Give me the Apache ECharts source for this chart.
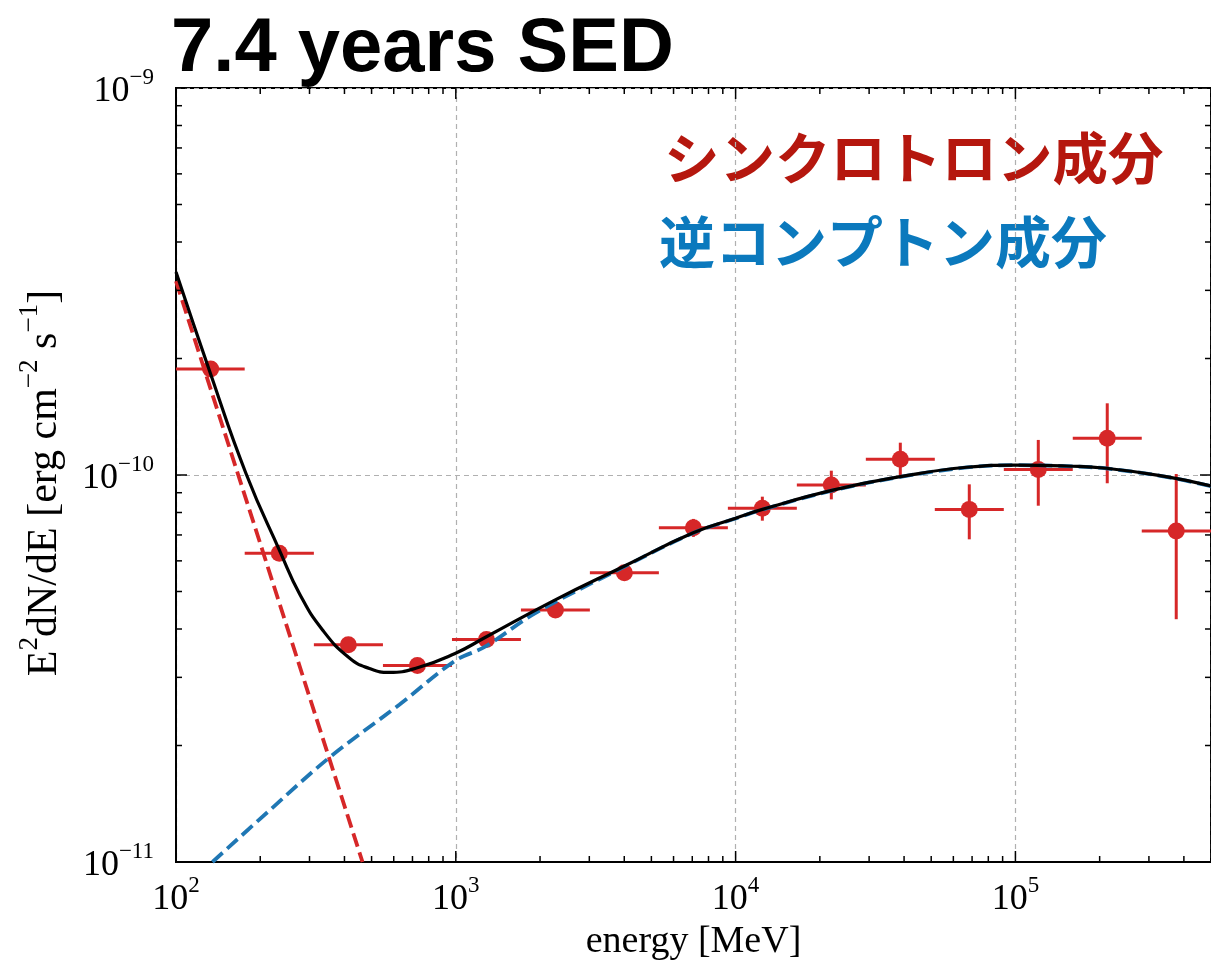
<!DOCTYPE html>
<html>
<head>
<meta charset="utf-8">
<title>7.4 years SED</title>
<script src="https://cdn.jsdelivr.net/npm/echarts@6/dist/echarts.min.js"></script>
<style>
  html, body { margin: 0; padding: 0; background: #fff; }
  #chart { width: 1211px; height: 967px; }
</style>
</head>
<body>
<div id="chart"></div>
<script>
// Fermi-LAT band fluxes (MeV, erg cm^-2 s^-1)
const energy     = [133, 234, 413, 729, 1287, 2270, 4004, 7063, 12460, 21980, 38780, 68410, 120700, 212900, 375600];
const energyLow  = [100, 176, 311, 549, 969, 1709, 3014, 5318, 9382, 16550, 29200, 51510, 90880, 160300, 282800];
const energyHigh = [176, 311, 549, 969, 1709, 3014, 5318, 9382, 16550, 29200, 51510, 90880, 160300, 282800, 500000];
const flux       = [1.88e-10, 6.28e-11, 3.64e-11, 3.22e-11, 3.76e-11, 4.48e-11, 5.59e-11, 7.31e-11, 8.20e-11, 9.42e-11, 1.098e-10, 8.15e-11, 1.034e-10, 1.244e-10, 7.17e-11];
const fluxLow    = [1.84e-10, 6.12e-11, 3.56e-11, 3.15e-11, 3.69e-11, 4.40e-11, 5.46e-11, 6.92e-11, 7.62e-11, 8.65e-11, 1.00e-10, 6.82e-11, 8.33e-11, 9.52e-11, 4.24e-11];
const fluxHigh   = [1.92e-10, 6.44e-11, 3.72e-11, 3.29e-11, 3.83e-11, 4.56e-11, 5.72e-11, 7.70e-11, 8.79e-11, 1.026e-10, 1.212e-10, 9.46e-11, 1.232e-10, 1.532e-10, 1.006e-10];

// Model components
const syncE  = [100, 464];
const syncF  = [3.17e-10, 1.0e-11];
const icE    = [135, 216, 357, 628, 994, 1272, 1917, 4010, 7022, 10000, 12470, 22450, 38810, 67040, 100000, 152200, 211300, 345600, 500000];
const icF    = [1.0e-11, 1.36e-11, 1.873e-11, 2.55e-11, 3.31e-11, 3.60e-11, 4.39e-11, 5.80e-11, 7.07e-11, 7.72e-11, 8.14e-11, 9.14e-11, 9.89e-11, 1.046e-10, 1.06e-10, 1.054e-10, 1.04e-10, 9.89e-11, 9.36e-11];
const totalE = [100, 132.2, 177.6, 236.7, 276.6, 334, 416.8, 491.2, 578.8, 734, 994, 1272, 2258, 4010, 7022, 10000, 12470, 22450, 38810, 67040, 100000, 152200, 211300, 345600, 500000];
const totalF = [3.345e-10, 1.846e-10, 1.012e-10, 6.286e-11, 4.927e-11, 3.977e-11, 3.366e-11, 3.162e-11, 3.089e-11, 3.181e-11, 3.458e-11, 3.802e-11, 4.75e-11, 5.82e-11, 7.08e-11, 7.73e-11, 8.15e-11, 9.15e-11, 9.90e-11, 1.047e-10, 1.061e-10, 1.055e-10, 1.041e-10, 9.90e-11, 9.37e-11];

// Axis ticks
const xTickExps  = [2, 3, 4, 5];
const yTickExps  = [-11, -10, -9];
const xMajor = [100, 1000, 10000, 100000];
const xMinor = [200, 300, 400, 500, 600, 700, 800, 900,
                2000, 3000, 4000, 5000, 6000, 7000, 8000, 9000,
                20000, 30000, 40000, 50000, 60000, 70000, 80000, 90000,
                200000, 300000, 400000];
const yMajor = [1e-11, 1e-10, 1e-9];
const yMinor = [2e-11, 3e-11, 4e-11, 5e-11, 6e-11, 7e-11, 8e-11, 9e-11,
                2e-10, 3e-10, 4e-10, 5e-10, 6e-10, 7e-10, 8e-10, 9e-10];

const SERIF = '"Liberation Serif", "DejaVu Serif", serif';
const RED = '#d62728';
const BLUE = '#1f77b4';

const zip = (a, b) => a.map((v, i) => [v, b[i]]);

const tickRich = {
  b: { fontFamily: SERIF, fontSize: 36, lineHeight: 44, verticalAlign: 'bottom', color: '#000' },
  s: { fontFamily: SERIF, fontSize: 23, lineHeight: 24, verticalAlign: 'top', color: '#000' }
};

function powerLabel(exps) {
  return function (v) {
    const l = Math.log10(v);
    const e = Math.round(l);
    if (Math.abs(l - e) > 1e-6 || exps.indexOf(e) < 0) return '';
    return '{b|10}{s|' + String(e).replace('-', '\u2212') + '}';
  };
}

function xTicks(len) {
  return function (params, api) {
    const cs = params.coordSys;
    const px = api.coord([api.value(0), 1e-10])[0];
    const style = { stroke: '#000', lineWidth: 1.5 };
    return { type: 'group', children: [
      { type: 'line', shape: { x1: px, y1: cs.y + cs.height, x2: px, y2: cs.y + cs.height - len }, style },
      { type: 'line', shape: { x1: px, y1: cs.y, x2: px, y2: cs.y + len }, style }
    ]};
  };
}
function yTicks(len) {
  return function (params, api) {
    const cs = params.coordSys;
    const py = api.coord([1000, api.value(1)])[1];
    const style = { stroke: '#000', lineWidth: 1.5 };
    return { type: 'group', children: [
      { type: 'line', shape: { x1: cs.x, y1: py, x2: cs.x + len, y2: py }, style },
      { type: 'line', shape: { x1: cs.x + cs.width, y1: py, x2: cs.x + cs.width - len, y2: py }, style }
    ]};
  };
}

const errData = energy.map((e, i) => [e, flux[i], energyLow[i], energyHigh[i], fluxLow[i], fluxHigh[i]]);

const chart = echarts.init(document.getElementById('chart'), null, { renderer: 'canvas' });

chart.setOption({
  animation: false,
  backgroundColor: '#fff',
  grid: {
    left: 176, top: 88, right: -3, bottom: 105,
    show: true, borderColor: '#000', borderWidth: 2, backgroundColor: 'transparent'
  },
  xAxis: {
    type: 'log', logBase: 10, min: 100, max: 500000,
    name: 'energy [MeV]', nameLocation: 'middle', nameGap: 60,
    nameTextStyle: { fontFamily: SERIF, fontSize: 38, color: '#000' },
    axisLine: { lineStyle: { color: '#000', width: 2 } },
    axisTick: { show: false },
    minorTick: { show: false },
    axisLabel: { formatter: powerLabel(xTickExps), margin: 12, rich: tickRich, showMaxLabel: false },
    splitLine: { show: true, lineStyle: { color: '#b0b0b0', type: [5, 4], width: 1.2 } }
  },
  yAxis: {
    type: 'log', logBase: 10, min: 1e-11, max: 1e-9,
    name: '{n|E}{s|2}{n|dN/dE [erg cm}{s|\u22122}{n| s}{s|\u22121}{n|]}',
    nameLocation: 'middle', nameGap: 110, nameRotate: 90,
    nameTextStyle: {
      padding: [0, 16, 0, 0],
      rich: {
        n: { fontFamily: SERIF, fontSize: 42, lineHeight: 50, verticalAlign: 'bottom', color: '#000' },
        s: { fontFamily: SERIF, fontSize: 27, lineHeight: 28, verticalAlign: 'top', color: '#000' }
      }
    },
    axisLine: { lineStyle: { color: '#000', width: 2 } },
    axisTick: { show: false },
    minorTick: { show: false },
    axisLabel: { formatter: powerLabel(yTickExps), margin: 22, rich: tickRich },
    splitLine: { show: true, lineStyle: { color: '#b0b0b0', type: [5, 4], width: 1.2 } }
  },
  graphic: [
    { type: 'text', x: 171, y: 50, style: { text: '7.4 years SED', fontFamily: '"Liberation Sans", Arial, sans-serif', fontWeight: 'bold', fontSize: 76, fill: '#000', verticalAlign: 'middle', align: 'left' } },
    { type: 'text', x: 664, y: 158, style: { text: 'シンクロトロン成分', fontFamily: '"Noto Sans CJK JP", sans-serif', fontWeight: 'bold', fontSize: 55.5, fill: '#b5170e', verticalAlign: 'middle', align: 'left' } },
    { type: 'text', x: 659, y: 242, style: { text: '逆コンプトン成分', fontFamily: '"Noto Sans CJK JP", sans-serif', fontWeight: 'bold', fontSize: 56, fill: '#0b79bd', verticalAlign: 'middle', align: 'left' } }
  ],
  series: [
    {
      name: 'errors', type: 'custom', z: 3, silent: true,
      data: errData,
      encode: { x: 0, y: 1 },
      renderItem: function (params, api) {
        const c = api.coord([api.value(0), api.value(1)]);
        const xl = api.coord([api.value(2), api.value(1)]);
        const xh = api.coord([api.value(3), api.value(1)]);
        const yl = api.coord([api.value(0), api.value(4)]);
        const yh = api.coord([api.value(0), api.value(5)]);
        const style = { stroke: RED, lineWidth: 3 };
        return { type: 'group', children: [
          { type: 'line', shape: { x1: xl[0], y1: c[1], x2: xh[0], y2: c[1] }, style },
          { type: 'line', shape: { x1: c[0], y1: yl[1], x2: c[0], y2: yh[1] }, style }
        ]};
      }
    },
    {
      name: 'flux', type: 'scatter', z: 4, silent: true,
      data: zip(energy, flux),
      symbol: 'circle', symbolSize: 17,
      itemStyle: { color: RED, opacity: 1 }
    },
    {
      name: 'synchrotron', type: 'line', z: 5, silent: true, showSymbol: false,
      data: zip(syncE, syncF),
      lineStyle: { color: RED, width: 3.8, type: [14, 6] }
    },
    {
      name: 'inverse Compton', type: 'line', z: 6, silent: true, showSymbol: false, smooth: 0.35,
      data: zip(icE, icF),
      lineStyle: { color: BLUE, width: 3.8, type: [14, 6] }
    },
    {
      name: 'total', type: 'line', z: 7, silent: true, showSymbol: false, smooth: 0.5,
      data: zip(totalE, totalF),
      lineStyle: { color: '#000', width: 3.2 }
    },
    { type: 'custom', z: 8, silent: true, clip: false, data: xMajor.map(v => [v, 1e-10]), renderItem: xTicks(11) },
    { type: 'custom', z: 8, silent: true, clip: false, data: xMinor.map(v => [v, 1e-10]), renderItem: xTicks(6) },
    { type: 'custom', z: 8, silent: true, clip: false, data: yMajor.map(v => [1000, v]), renderItem: yTicks(11) },
    { type: 'custom', z: 8, silent: true, clip: false, data: yMinor.map(v => [1000, v]), renderItem: yTicks(6) }
  ]
});
</script>
</body>
</html>
